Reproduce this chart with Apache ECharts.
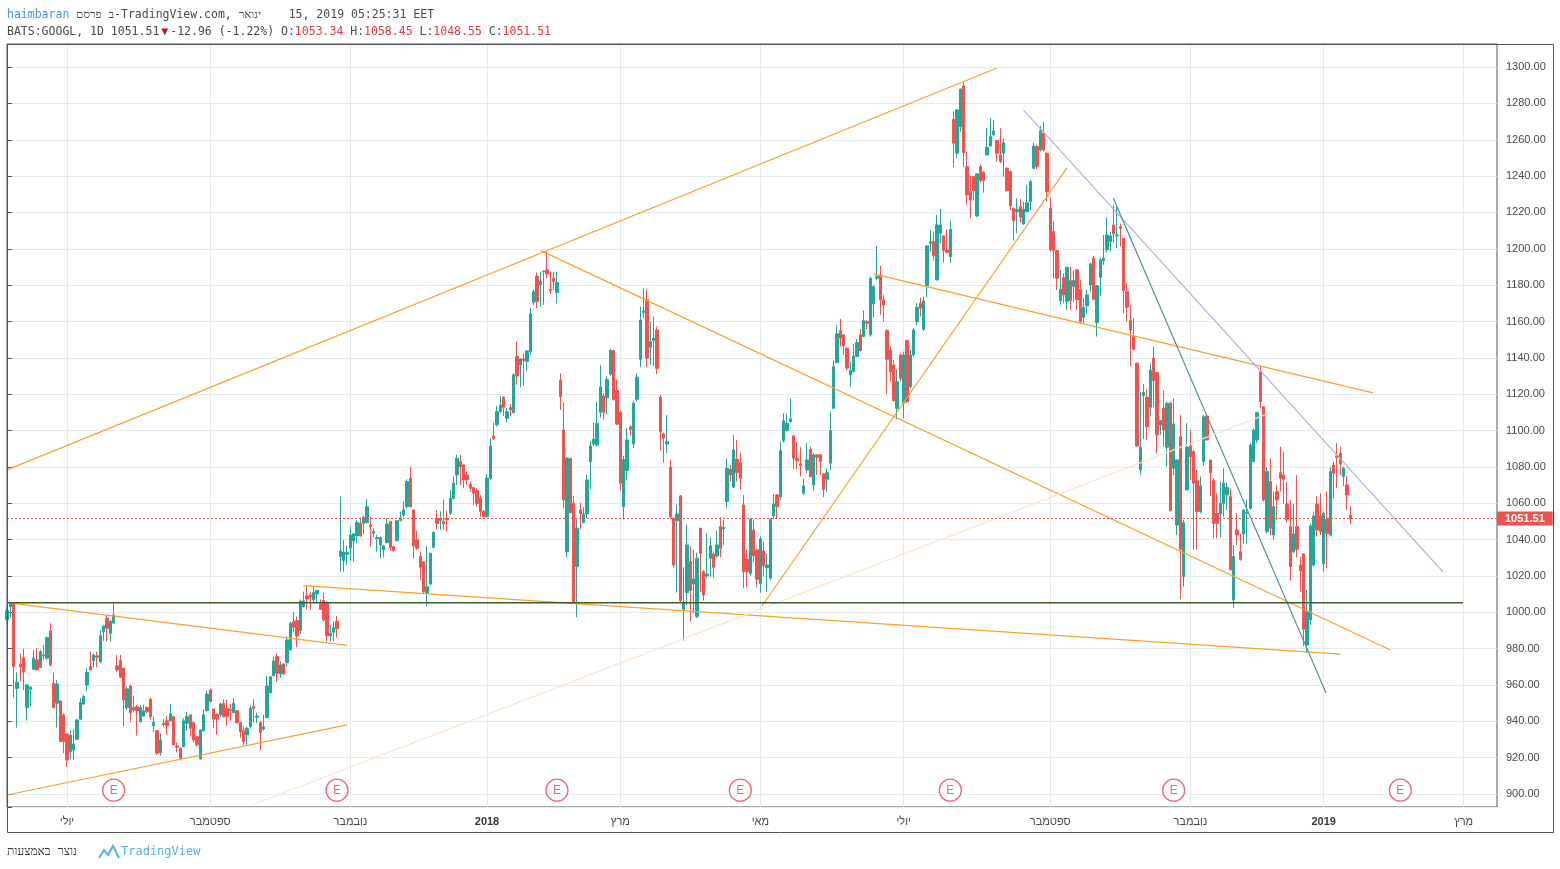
<!DOCTYPE html>
<html>
<head>
<meta charset="utf-8">
<title>BATS:GOOGL 1D</title>
<script src="https://cdn.jsdelivr.net/npm/echarts@6/dist/echarts.min.js"></script>
<style>
  html, body { margin: 0; padding: 0; background: #fff; }
  #chart { width: 1560px; height: 869px; }
</style>
</head>
<body>
<div id="chart"></div>
<script>
// trading calendar
const firstDay = '2017-06-07';
const lastDay = '2019-01-14';
const axisEnd = '2019-03-15';
const holidays = ['2017-07-04', '2017-09-04', '2017-11-23', '2017-12-25', '2018-01-01', '2018-01-15',
  '2018-02-19', '2018-03-30', '2018-05-28', '2018-07-04', '2018-09-03', '2018-11-22', '2018-12-05',
  '2018-12-25', '2019-01-01'];
const monthNames = { 3: 'מרץ', 5: 'מאי', 7: 'יולי', 9: 'ספטמבר', 11: 'נובמבר' };
const earnings = ['2017-07-24', '2017-10-26', '2018-02-01', '2018-04-23', '2018-07-23', '2018-10-25', '2019-02-04'];
const lastPrice = 1051.51;

// daily bars: [open, high, low, close]
const ohlc = [
  [996, 1003, 995, 1001], [1003, 1005, 997, 1004.5], [1005, 1005.5, 953, 970], [958, 967, 936.5, 961.5], [971.4, 977.4, 961.8, 970],
  [975, 980, 957, 967], [947.5, 960.5, 940.4, 960], [957.6, 959.4, 948.4, 958.7], [968.6, 979.3, 968.3, 974.7], [973.8, 980.2, 967.9, 968.3],
  [969.7, 979.3, 969.2, 978.3], [976.5, 982, 973.8, 976], [974.7, 986.6, 973.8, 986], [989.7, 994, 970.1, 971], [960.9, 966.8, 947.2, 947.5],
  [949.9, 962.7, 936.5, 960.5], [951.2, 951.5, 928.5, 928.8], [943.5, 944.4, 922.4, 928.8], [933, 933.4, 915, 918.7], [923.3, 935.2, 919.1, 932.3],
  [924.2, 935.6, 918.7, 927.5], [930.1, 941.1, 929.7, 940.7], [941.1, 952.7, 940.7, 950.5], [949.5, 954.5, 949, 953.6], [960, 969.2, 956.3, 967],
  [970.1, 978.3, 967.9, 968.3], [973.4, 977.4, 969.7, 976.5], [976, 978.3, 969.7, 975.2], [972.7, 990.3, 971.9, 987], [989.2, 992.5, 984.2, 992.5],
  [996.7, 998.5, 983.9, 991.2], [988.4, 995.8, 983.9, 994.9], [994, 1005.9, 993.6, 998.5], [970.5, 976.5, 967.3, 968.3], [973.4, 976.5, 963.7, 964.2],
  [969.2, 969.7, 937.1, 951.7], [947.5, 959.1, 946.2, 957.8], [959.4, 960, 939.8, 944.8], [947.5, 954, 945.3, 946.2], [948, 949, 932.1, 945.7],
  [939.8, 949, 939.3, 947.5], [942.9, 949, 942.5, 945.7], [947.5, 948.1, 944.4, 945.3], [952, 953, 941, 942.5], [937.6, 942.5, 934, 939.4],
  [934.8, 935.2, 921.4, 922.4], [922.7, 933.4, 921, 929.7], [938.9, 941.1, 936.7, 938.1], [940.3, 942.9, 932.5, 937.6], [940.3, 949.5, 939.8, 944],
  [942.5, 942.9, 926.9, 927], [926.4, 928.2, 922.7, 925.7], [925.1, 925.5, 918.3, 919.6], [926, 941.6, 925.7, 940.2], [938.9, 945.3, 934.8, 942.5],
  [943.5, 943.5, 931.5, 936.1], [939.2, 939.8, 928.2, 929.7], [931.5, 931.5, 926, 927], [919.3, 935.6, 918.7, 935.2], [934.8, 946.6, 934.3, 943.5],
  [945.8, 956.9, 945.3, 955], [957.2, 958.1, 950.5, 950.8], [946.8, 946.8, 936.1, 941.1], [943.8, 944.4, 932.8, 941.3], [943.5, 950.2, 942.5, 949.5],
  [949.9, 952.1, 942.2, 942.5], [947.1, 951.7, 937.6, 942.5], [946.6, 949.5, 940.3, 945.8], [944.8, 952.6, 944.4, 949.9], [945.8, 946.2, 938.9, 939.2],
  [939.2, 939.8, 931, 934.3], [934.8, 937, 927, 928.8], [932.5, 937, 927, 936.1], [937, 948.6, 936.1, 947.1], [948, 952.1, 939.2, 947],
  [942.2, 944.7, 938.9, 942.9], [939.2, 940.2, 924.2, 933.8], [935.7, 943.5, 934.8, 936.9], [942, 964.9, 941.6, 959.4], [955.7, 964.9, 955.4, 964.5],
  [965.1, 975.6, 964.5, 973.2], [975.6, 977.4, 961.8, 966.4], [966, 973, 964, 971], [971.5, 972, 965.5, 966], [972.3, 986.6, 970.1, 984.7],
  [979.3, 994.8, 978.9, 993.9], [994.8, 1000.3, 989.4, 991.7], [995.4, 997.6, 980.7, 986.9], [990, 1007, 988, 1006], [1003, 1011.3, 1002.5, 1006.2],
  [1008.9, 1014.5, 1001.6, 1007.3], [1009.5, 1011.3, 1001.2, 1008.6], [1006.7, 1014.6, 1004.9, 1010.8], [1010, 1012.3, 1005.3, 1012], [1004.5, 1007.1, 1001.2, 1001.6],
  [1006.4, 1010.8, 995, 995.7], [1005, 1006, 984, 987], [987, 993, 984, 988.5], [989, 995, 984, 991.5], [995, 998, 986, 991],
  [1030.6, 1063.6, 1022.3, 1033.7], [1028.4, 1039.8, 1022.3, 1033], [1031.9, 1036.5, 1026, 1032.8], [1035.2, 1047.1, 1028.4, 1042.5], [1039.2, 1043.4, 1027.8, 1043.1],
  [1042, 1050.8, 1038, 1049.5], [1048.9, 1052.2, 1041.6, 1042], [1048.9, 1053, 1043.1, 1052.2], [1049.3, 1062.2, 1049, 1058.1], [1048, 1052.6, 1036.1, 1047.1],
  [1043.4, 1046.2, 1041.2, 1044.4], [1040.5, 1042.5, 1033.3, 1041.1], [1037, 1041.6, 1029.7, 1041.2], [1034.3, 1037, 1030.2, 1036.5], [1038.3, 1051.7, 1037.9, 1048.6],
  [1049.9, 1050.4, 1033.9, 1035.7], [1036.1, 1036.5, 1033.3, 1033.9], [1039.4, 1050.8, 1039, 1050.4], [1050.4, 1055.4, 1050, 1052], [1053.5, 1060.9, 1052.2, 1056.3],
  [1058.1, 1073.2, 1057.2, 1071.9], [1073.7, 1079.8, 1057.5, 1058.1], [1056.3, 1056.5, 1029.7, 1036.5], [1039.8, 1044.9, 1034.3, 1035.2], [1030.6, 1033.3, 1017.8, 1024.7],
  [1027.8, 1028, 1010, 1011.3], [1010.4, 1036.5, 1003.1, 1014], [1015.5, 1032.8, 1015, 1032.4], [1035.7, 1044.4, 1035.2, 1044], [1051.7, 1056.3, 1045.6, 1048.9],
  [1050.4, 1055.4, 1045.3, 1051.7], [1049.9, 1062.1, 1045.3, 1048.6], [1051.7, 1055.9, 1044.4, 1050.8], [1054.4, 1067.3, 1053.5, 1062.7], [1062.7, 1074.6, 1062.2, 1071],
  [1075.5, 1086.6, 1070, 1084.7], [1082.9, 1086.6, 1070, 1080.1], [1081, 1081.4, 1068.2, 1072.8], [1075.5, 1077.4, 1070, 1072.8], [1070.4, 1071.9, 1066.4, 1068.2],
  [1068.6, 1069.1, 1059, 1065.5], [1066.9, 1068.2, 1058.1, 1059.9], [1062.7, 1064.5, 1052.6, 1055.4], [1055.4, 1056.3, 1052.2, 1052.6], [1052.6, 1076.1, 1052.2, 1073.7],
  [1073.7, 1095.7, 1072.8, 1091.5], [1097, 1104.3, 1094.8, 1095.4], [1103.1, 1113.5, 1102.1, 1110.4], [1110.4, 1119, 1109.8, 1114.1], [1118.3, 1119, 1108, 1112.8],
  [1106.7, 1112.2, 1104.3, 1110.4], [1112.6, 1114.6, 1108, 1111.3], [1109.8, 1131.5, 1109.5, 1130.6], [1140.7, 1148.9, 1125.1, 1130], [1136.1, 1139.8, 1123.8, 1139.4],
  [1139.4, 1142.5, 1124.5, 1138.5], [1137.9, 1144.3, 1132.8, 1143.8], [1143.4, 1167.3, 1141.6, 1164.2], [1170.4, 1177.7, 1169.1, 1176.4], [1185, 1186.9, 1167.3, 1171],
  [1180.1, 1187.4, 1168.2, 1182.3], [1187.5, 1188, 1169.1, 1187.8], [1188.4, 1198.5, 1183.8, 1186.2], [1177.7, 1187.4, 1175.1, 1177], [1183.8, 1187.4, 1177.4, 1181.9],
  [1175.9, 1187.4, 1170, 1181.4], [1127.5, 1131.5, 1111.3, 1118.7], [1100.3, 1115.4, 1057.2, 1061.8], [1033.3, 1085.5, 1030.2, 1084.7], [1084.7, 1085, 1054.5, 1054.8],
  [1059.9, 1064, 1004.9, 1005.8], [1025.1, 1051.1, 997.2, 1046.2], [1056.3, 1060.3, 1045.6, 1054.1], [1049.3, 1057.8, 1048.9, 1054.1], [1054.1, 1075.5, 1051.7, 1072.8],
  [1082.9, 1094.3, 1067.7, 1091.5], [1092.6, 1104.3, 1091.5, 1095.2], [1092, 1115.9, 1091.1, 1104], [1110, 1136, 1107, 1124], [1119, 1120.5, 1106, 1110],
  [1118, 1130, 1109, 1128], [1131, 1145, 1130, 1144], [1144, 1144.5, 1116.5, 1117], [1122, 1128, 1103, 1103.5], [1110, 1111, 1067, 1071],
  [1058, 1086, 1051, 1084], [1077.9, 1101.2, 1072.4, 1094.8], [1102, 1103, 1097, 1100.5], [1092.6, 1116.5, 1090.2, 1115], [1117.2, 1131.5, 1115.9, 1129.3],
  [1139.2, 1168.2, 1134.8, 1160.8], [1164.9, 1178.3, 1161.8, 1165.8], [1171.9, 1177.7, 1134.8, 1139.8], [1145.8, 1159.9, 1136.1, 1148.9], [1149.5, 1162.7, 1135.5, 1150.7],
  [1155.3, 1157.2, 1131, 1134.2], [1118.3, 1119.6, 1088.9, 1099.4], [1098.1, 1098.8, 1082.3, 1095.7], [1092.6, 1108.6, 1087.5, 1093.9], [1079.8, 1083.8, 1051.5, 1052.3],
  [1051.7, 1052, 1024.5, 1026], [1050.4, 1059, 1010.8, 1054.1], [1064, 1064.5, 1005.5, 1006.4], [1001.6, 1024.7, 984.4, 1005.3], [1010.8, 1048, 1004, 1037],
  [1027.8, 1036.1, 994.8, 1011.9], [1015.5, 1034.3, 999.4, 1018.3], [997.6, 1032.8, 996.7, 1029.7], [1046.2, 1046.5, 1011.3, 1032.4], [1022.3, 1023.2, 1006.4, 1009.5],
  [1020, 1043.4, 1018.7, 1021], [1029.7, 1041.2, 1019.6, 1036.5], [1032, 1033.3, 1019, 1024.7], [1031, 1044.9, 1030.2, 1037], [1047.1, 1052.3, 1030.2, 1035.2],
  [1045.8, 1050.8, 1037, 1046.7], [1060.9, 1084.7, 1057.2, 1079.2], [1078.7, 1081, 1071.9, 1075.5], [1068.8, 1097.6, 1068.2, 1089.3], [1084.2, 1094.8, 1071.9, 1076.8],
  [1082.3, 1087.8, 1067.3, 1073.7], [1059, 1064.5, 1013.2, 1022.3], [1029.1, 1034.3, 1013.7, 1022.3], [1021.4, 1052, 1020, 1051.1], [1045.3, 1051.1, 1027.8, 1031],
  [1034.3, 1035.2, 1013.7, 1018.1], [1015.9, 1041.6, 1010.8, 1040.3], [1033.7, 1038.9, 1019.6, 1025.5], [1024.5, 1032.4, 1011.3, 1026], [1018.7, 1051.7, 1017.8, 1051.1],
  [1053, 1065.1, 1051.1, 1059.6], [1064.5, 1065.1, 1051.7, 1058.1], [1063.6, 1093.9, 1061.8, 1088.9], [1094.4, 1109.5, 1093.3, 1105.3], [1100, 1109.5, 1099.4, 1104],
  [1104.9, 1117.7, 1104.4, 1106.4], [1097, 1097.6, 1078.7, 1084.7], [1084.7, 1093.9, 1078.7, 1083.4], [1081.6, 1090.8, 1074.6, 1080.9], [1065.5, 1073.7, 1064.5, 1069.5],
  [1078.3, 1093, 1076.5, 1083.8], [1089.7, 1091.1, 1074.3, 1074.6], [1070, 1087.5, 1066.9, 1086.6], [1086.6, 1087.1, 1075.5, 1085.3], [1086.6, 1087, 1075.5, 1082.9],
  [1076.1, 1076.5, 1063.3, 1067.7], [1073.2, 1079.2, 1066.4, 1076.8], [1082, 1110.4, 1078.3, 1099.9], [1112.2, 1138.5, 1111.7, 1135.2], [1137.4, 1158.1, 1137, 1153.2],
  [1155, 1161.4, 1146.2, 1150.8], [1152.6, 1153.1, 1141.6, 1146.5], [1145.3, 1145.8, 1133, 1134.3], [1130.6, 1137.9, 1124.2, 1133], [1132.4, 1147.6, 1131.9, 1141],
  [1140.7, 1150.2, 1140.3, 1148.4], [1152.6, 1155.7, 1143.4, 1144], [1151.7, 1166, 1151.3, 1160.5], [1159.9, 1160.9, 1155.7, 1159], [1152.6, 1184.7, 1151.7, 1183.8],
  [1169.7, 1180.1, 1162.3, 1179.2], [1183.8, 1201.6, 1182.9, 1184.7], [1185.6, 1190.6, 1163.6, 1171.9], [1171.9, 1174.6, 1159.9, 1169.1], [1155, 1155.7, 1120.1, 1139.2],
  [1144.3, 1146.2, 1126.9, 1132.4], [1136.1, 1138.9, 1115.9, 1116.5], [1112.2, 1133.7, 1106.2, 1126.9], [1141.6, 1142.5, 1126.9, 1128.7], [1115, 1143.4, 1106.7, 1141.6],
  [1149.5, 1150, 1115, 1115.9], [1124.2, 1144.3, 1123.3, 1141.6], [1141.6, 1156.3, 1140.7, 1155.3], [1159.9, 1170, 1158.1, 1167.8], [1170, 1173.1, 1162.7, 1167.3],
  [1155.7, 1173.7, 1155, 1171.3], [1179.6, 1202.1, 1173.3, 1201.6], [1203, 1210.4, 1198.4, 1203.9], [1203.9, 1209.5, 1193.5, 1196.1], [1182.9, 1218.6, 1182.5, 1213.1],
  [1208.5, 1221.8, 1203, 1213.1], [1207.1, 1207.6, 1192.4, 1199], [1199.4, 1210.7, 1197.5, 1197.9], [1195.7, 1215.5, 1192.4, 1210.7], [1271.3, 1275.5, 1244.9, 1258.1],
  [1252.6, 1276.8, 1249.8, 1276.4], [1267.2, 1288.3, 1264.5, 1287.8], [1289.6, 1291.5, 1244.9, 1252.9], [1245.2, 1253.5, 1224.1, 1229.6], [1231.5, 1240.1, 1216.8, 1226.9],
  [1239.7, 1240, 1226.5, 1232], [1218.1, 1241.6, 1217.5, 1241.2], [1245.2, 1246.7, 1236.1, 1237.5], [1241.9, 1243, 1230.9, 1237.5], [1251.7, 1266.3, 1251.2, 1255.9],
  [1256.6, 1271.8, 1256.2, 1261.7], [1262.7, 1270.9, 1262.2, 1264.8], [1259.6, 1259.9, 1248, 1252.6], [1251.7, 1266.3, 1247.1, 1248], [1252.6, 1260.8, 1239.7, 1258.4],
  [1244.3, 1244.9, 1231.5, 1232], [1242.5, 1243, 1221.4, 1223.6], [1222.3, 1222.7, 1204.5, 1215.5], [1220.5, 1227.8, 1208.5, 1221.8], [1223.2, 1227.3, 1214.4, 1217.3],
  [1213.7, 1226, 1213.2, 1221.8], [1220.5, 1235.1, 1220, 1225.4], [1225.9, 1237.9, 1221.4, 1237], [1244.3, 1258.4, 1243.8, 1256.6], [1256.2, 1257.2, 1243.8, 1245.2],
  [1254.4, 1267.6, 1253.5, 1265], [1263.6, 1270, 1253.5, 1254.4], [1252.6, 1253, 1226, 1231.5], [1222.3, 1227.8, 1198.5, 1199.4], [1209.5, 1215, 1183.8, 1199],
  [1199, 1199.4, 1177.4, 1183.8], [1171.5, 1188.4, 1169.1, 1177.7], [1184.3, 1186.5, 1170, 1174.6], [1170.9, 1190.2, 1166.4, 1189.8], [1182.5, 1190.2, 1166.4, 1171.5],
  [1179.2, 1188, 1170.9, 1182.5], [1188.4, 1188.7, 1166.4, 1171.9], [1177.7, 1182.9, 1159, 1159.9], [1162.3, 1172.8, 1159, 1167.8], [1168.6, 1177.4, 1164.2, 1174.6],
  [1180.1, 1192.4, 1176.4, 1191.7], [1194.8, 1196.1, 1171.9, 1172.2], [1159.4, 1180.1, 1151.7, 1179.6], [1184.3, 1195.3, 1174.1, 1193.9], [1193.5, 1207.6, 1191.1, 1194.8],
  [1199.4, 1217.3, 1197.9, 1207.6], [1203.9, 1209.5, 1198.5, 1207.1], [1213.1, 1224.1, 1203.4, 1208.2], [1207.1, 1223.2, 1200.3, 1207.6], [1212.2, 1214, 1201.2, 1211.3],
  [1205.8, 1206, 1164.5, 1177], [1176.4, 1181.4, 1159.9, 1167.8], [1160.5, 1169.1, 1135.5, 1155.3], [1151.7, 1161.8, 1144.3, 1144.7], [1137, 1137.4, 1091, 1091.5],
  [1078.3, 1121.4, 1075.5, 1090.8], [1119.2, 1125.6, 1095.2, 1120.9], [1118.3, 1122.7, 1094.8, 1102.1], [1112.8, 1137, 1107.7, 1133.3], [1139.8, 1146.2, 1112.8, 1127.4],
  [1131.9, 1132.2, 1087.5, 1097.6], [1103, 1105.8, 1097.6, 1105.4], [1112.2, 1122, 1091.1, 1100.3], [1090.8, 1115.9, 1080.1, 1115], [1115, 1115.9, 1055.4, 1055.9],
  [1079.2, 1117.7, 1075.5, 1103.6], [1048, 1084, 1042.5, 1083.8], [1096.6, 1108.6, 1007.1, 1034.6], [1019.6, 1050.8, 1014.1, 1049.3], [1067.3, 1104, 1067, 1090.8],
  [1091.5, 1100.3, 1072.8, 1085.6], [1088.4, 1089.3, 1034.3, 1071], [1072.4, 1078.3, 1034.3, 1055.4], [1055.4, 1074.6, 1054.4, 1069.5], [1082.9, 1108.6, 1080.5, 1107.6],
  [1108, 1108.6, 1094.4, 1094.8], [1083.8, 1084, 1064, 1076.8], [1072.4, 1073.7, 1040.7, 1048.9], [1054.4, 1065.5, 1040.7, 1048.9], [1054.1, 1071.9, 1041.2, 1059.9],
  [1059.9, 1079.2, 1052.6, 1071], [1064.5, 1071.3, 1056.3, 1068.6], [1063.6, 1068.2, 1023, 1023.3], [1006.7, 1037, 1002.2, 1030.6], [1045.3, 1054.4, 1037, 1042.5],
  [1033.3, 1043.1, 1028.4, 1029.1], [1043.1, 1056.6, 1037.6, 1056.3], [1054.4, 1061.8, 1037.9, 1054.8], [1057.2, 1093, 1056.3, 1092], [1082.9, 1101.2, 1082.5, 1100.3],
  [1094.8, 1110.4, 1093, 1109.8], [1132.4, 1135.5, 1112.2, 1115.9], [1113.1, 1113.5, 1060.9, 1061.8], [1044.4, 1079.8, 1043.4, 1077.4], [1071.9, 1084.7, 1042.5, 1046.2],
  [1042.5, 1066.4, 1039.8, 1058.1], [1066.4, 1070, 1050.8, 1061.8], [1076.8, 1091.1, 1066.4, 1073.7], [1075.5, 1088.4, 1059.6, 1073.2], [1059.6, 1071.9, 1049.3, 1051.1],
  [1047.1, 1061.8, 1017.4, 1025.1], [1033.3, 1059.6, 1032.4, 1043.1], [1047.1, 1075.5, 1030.2, 1034.6], [1026, 1030.6, 1011.3, 1022.9], [1032.1, 1032.4, 981.4, 990.6],
  [981.9, 1012.2, 977.4, 1000.3], [995.7, 1048.9, 993, 1047.5], [1026, 1055.4, 1025.1, 1053], [1059.6, 1064, 1041.6, 1045.3], [1053, 1065.5, 1042.5, 1044.4],
  [1026.6, 1055.4, 1022.3, 1054.4], [1051.1, 1066.4, 1024.2, 1043.4], [1042.5, 1080.1, 1041.6, 1077.4], [1081, 1082.9, 1062.7, 1076.5], [1086.1, 1093, 1068.2, 1085.3],
  [1087.5, 1091.1, 1075.5, 1081.6], [1074.6, 1080.1, 1069.5, 1079.2], [1070, 1075, 1056.3, 1064.5], [1053.34, 1058.45, 1048.55, 1051.51]
];

// drawings: [bar index, price] end points
const orange = '#f9a12c';
const trendLines = [
  { color: orange, pts: [[0, 1078.3], [297, 1299.5]] },
  { color: orange, pts: [[160.2, 1199], [415, 979.2]] },
  { color: orange, pts: [[226.5, 1003.4], [318, 1244.5]] },
  { color: orange, pts: [[259.9, 1186.2], [409.8, 1120.7]] },
  { color: orange, pts: [[88.9, 1014.6], [400, 976.9]] },
  { color: orange, pts: [[0, 1005.3], [102, 981.7]] },
  { color: orange, pts: [[0, 899.4], [102, 938]] },
  { color: '#b3aedb', pts: [[304.9, 1276.4], [430.8, 1022.2]] },
  { color: '#4f8f91', pts: [[331.9, 1227.8], [395.7, 955.6]] },
  { color: '#fde2cc', pts: [[73.5, 893.9], [378.9, 1109.7]] }
];
const supportLevel = 1005.2;
const supportEnd = 436.8;

function weekdays(from, to, skipHolidays) {
  const out = [];
  const d = new Date(from + 'T00:00:00Z');
  const end = new Date(to + 'T00:00:00Z');
  while (d <= end) {
    const s = d.toISOString().slice(0, 10);
    const wd = d.getUTCDay();
    if (wd !== 0 && wd !== 6 && !(skipHolidays && holidays.includes(s))) out.push(s);
    d.setUTCDate(d.getUTCDate() + 1);
  }
  return out;
}
const days = weekdays(firstDay, lastDay, true).concat(weekdays('2019-01-15', axisEnd, false));
const lastIdx = days.length - 1;

function monthStart(i) {
  if (i === 0) return false;
  const m = +days[i].slice(5, 7);
  return m !== +days[i - 1].slice(5, 7) && m % 2 === 1;
}

const myChart = echarts.init(document.getElementById('chart'));

const series = [{
  type: 'candlestick',
  data: ohlc.map(r => [r[0], r[3], r[2], r[1]]),
  barWidth: 2.6,
  itemStyle: { color: '#26a69a', color0: '#ef5350', borderColor: '#26a69a', borderColor0: '#ef5350', borderWidth: 1 },
  markLine: {
    silent: true,
    symbol: ['none', 'none'],
    data: [{ yAxis: lastPrice }],
    lineStyle: { color: '#ef5350', type: [2, 2], width: 1 },
    label: {
      position: 'end', distance: 0, formatter: lastPrice.toFixed(2),
      backgroundColor: '#ef5350', color: '#fff', fontWeight: 'bold', fontSize: 11,
      fontFamily: 'Liberation Sans', padding: [2, 8, 1, 8]
    }
  },
  z: 3
}];

trendLines.forEach(t => series.push({
  type: 'line', xAxisIndex: 1, data: t.pts, symbol: 'none', silent: true,
  lineStyle: { color: t.color, width: 1.2 }, z: 4
}));
series.push({
  type: 'line', xAxisIndex: 1, data: [[0, supportLevel], [supportEnd, supportLevel]], symbol: 'none', silent: true,
  lineStyle: { color: '#3d5c2c', width: 1.6 }, z: 4
});
series.push({
  type: 'scatter', yAxisIndex: 1, data: earnings.map(d => [d, 0.022]), symbol: 'circle', symbolSize: 22, silent: true,
  itemStyle: { color: '#fff', borderColor: '#e4475a', borderWidth: 1.3 },
  label: { show: true, position: 'inside', formatter: 'E', color: '#e4475a', fontSize: 12, fontFamily: 'Liberation Sans' },
  z: 5
});

const txt = { fontFamily: 'DejaVu Sans Mono', fontSize: 11.5, lineHeight: 17, fontWeight: 'normal' };

const option = {
  animation: false,
  backgroundColor: '#fff',
  title: {
    left: 7, top: 7, padding: 0,
    text: '{u|haimbaran} {t|פרסם} {t|ב}{t|-TradingView.com, }{t|ינואר}{t|    15, 2019 05:25:31 EET}\n' +
      '{t|BATS:GOOGL, 1D 1051.51}{d|▼}{t|-12.96 (-1.22%) O:}{r|1053.34}{t| H:}{r|1058.45}{t| L:}{r|1048.55}{t| C:}{r|1051.51}',
    textStyle: Object.assign({ color: '#4a4a4a' }, txt, {
      rich: {
        u: Object.assign({ color: '#3a9be0' }, txt),
        t: Object.assign({ color: '#4a4a4a' }, txt),
        r: Object.assign({ color: '#e0393e' }, txt),
        d: Object.assign({ color: '#b01c1c', padding: [0, 2, 0, 2] }, txt)
      }
    })
  },
  grid: { left: 7, right: 63, top: 44, bottom: 62, show: true, borderColor: '#555', borderWidth: 1, backgroundColor: '#fff' },
  xAxis: [{
    type: 'category', data: days, boundaryGap: false,
    axisLine: { show: false }, axisTick: { show: false },
    axisLabel: {
      interval: i => monthStart(i), margin: 9, fontSize: 11, color: '#4a4a4a', fontFamily: 'Liberation Sans',
      formatter: v => { const m = +v.slice(5, 7); return m === 1 ? '{y|' + v.slice(0, 4) + '}' : monthNames[m]; },
      rich: { y: { fontWeight: 'bold', fontSize: 11, color: '#3a3a3a', fontFamily: 'Liberation Sans' } }
    },
    splitLine: { show: true, interval: i => monthStart(i), lineStyle: { color: '#e3eaf0', width: 1 } }
  }, {
    type: 'value', min: 0, max: lastIdx, show: false
  }],
  yAxis: [{
    type: 'value', position: 'right', min: 892.8, max: 1312.7, splitNumber: 21,
    axisLine: { show: false },
    axisTick: { show: true, length: 5, lineStyle: { color: '#555' } },
    axisLabel: {
      margin: 9, fontSize: 11, color: '#4a4a4a', fontFamily: 'Liberation Sans',
      formatter: v => (Math.abs(v / 20 - Math.round(v / 20)) < 1e-6 ? v.toFixed(2) : '')
    },
    splitLine: { lineStyle: { color: '#e3eaf0', width: 1 } }
  }, {
    type: 'value', min: 0, max: 1, show: false
  }],
  graphic: [
    { type: 'rect', silent: true, shape: { x: 7.5, y: 44.5, width: 1546, height: 788 }, style: { fill: 'none', stroke: '#555', lineWidth: 1 }, z: 10 },
    { type: 'polyline', silent: true, shape: { points: [[99, 858], [104, 850], [108, 855], [113, 846], [119, 858]] },
      style: { fill: 'none', stroke: '#52b0e3', lineWidth: 2 } },
    { type: 'text', silent: true, left: 121, top: 846, style: { text: 'TradingView', fill: '#52b0e3', font: '12px "DejaVu Sans Mono"' } },
    { type: 'text', silent: true, left: 7, top: 846, style: { text: 'נוצר באמצעות', fill: '#333', font: '12px "DejaVu Sans Mono"' } }
  ],
  series: series
};

myChart.setOption(option);
window.onresize = function () {
  myChart.resize();
};
</script>
</body>
</html>
